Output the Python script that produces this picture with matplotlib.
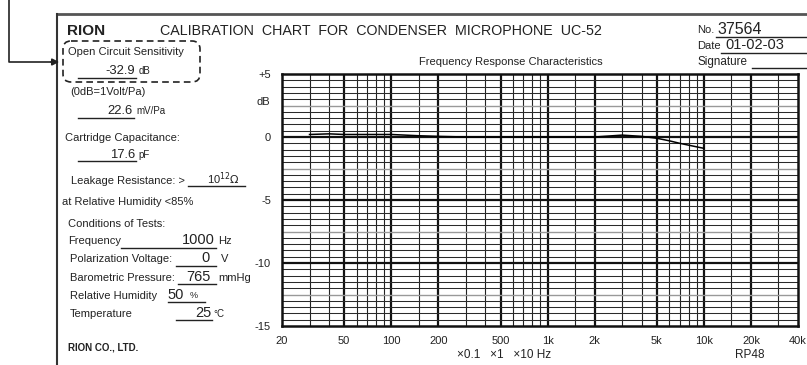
import matplotlib
matplotlib.use('Agg')
import matplotlib.pyplot as plt
from matplotlib.patches import FancyBboxPatch

plt.rcParams['font.family'] = ['Liberation Sans', 'DejaVu Sans']

# ---- data ----
freq_hz = [30, 40, 50, 70, 100, 150, 200, 300, 500, 1000, 2000, 3000, 4000,
           5000, 6000, 7000, 8000, 10000]
response_db = [0.2, 0.25, 0.2, 0.2, 0.2, 0.1, 0.05, 0.0, 0.0, 0.0, 0.0, 0.15,
               0.05, -0.1, -0.3, -0.5, -0.65, -0.9]

x_ticks = [20, 50, 100, 200, 500, 1000, 2000, 5000, 10000, 20000, 40000]
x_labels = ['20', '50', '100', '200', '500', '1k', '2k', '5k', '10k', '20k', '40k']
y_ticks = [5, 0, -5, -10, -15]
y_labels = ['+5', '0', '-5', '-10', '-15']

# chart paper grid
decades = [10, 100, 1000, 10000]
major_mult = [1, 2, 5]
minor_mult = [1.5, 3, 4, 6, 7, 8, 9]
db_step = 0.5

W, H = 807, 365
fig = plt.figure(figsize=(W / 100, H / 100), dpi=100)

# overlay for the printed form (pixel coords, y down)
ov = fig.add_axes([0, 0, 1, 1])
ov.set_xlim(0, W)
ov.set_ylim(H, 0)
ov.axis('off')

# ---- frequency response chart ----
left, right, top, bottom = 282, 798, 74, 326
ax = fig.add_axes([left / W, (H - bottom) / H, (right - left) / W, (bottom - top) / H])
ax.set_xscale('log')
ax.set_xlim(20, 40000)
ax.set_ylim(-15, 5)

for d in decades:
    for m in major_mult:
        f = d * m
        if 20 < f < 40000:
            ax.axvline(f, color='#111111', lw=1.6, zorder=1)
    for m in minor_mult:
        f = d * m
        if 20 < f < 40000:
            ax.axvline(f, color='#222222', lw=0.8, zorder=1)

n = int(round(20 / db_step))
for i in range(1, n):
    v = -15 + i * db_step
    if v % 5 == 0:
        ax.axhline(v, color='#111111', lw=1.6, zorder=1)
    elif v % 2.5 == 0:
        ax.axhline(v, color='#999999', lw=1.0, zorder=1)
    else:
        ax.axhline(v, color='#2a2a2a', lw=0.75, zorder=1)

ax.plot(freq_hz, response_db, color='black', lw=1.1, zorder=3)

for s in ax.spines.values():
    s.set_linewidth(1.8)
    s.set_color('#111111')

ax.set_xticks(x_ticks)
ax.set_xticklabels(x_labels)
ax.minorticks_off()
ax.set_yticks(y_ticks)
ax.set_yticklabels(y_labels)
ax.tick_params(axis='both', length=0, labelsize=8, colors='#222222')
ax.tick_params(axis='x', pad=7)
ax.tick_params(axis='y', pad=8)

# ---- the form around it ----
ov.plot([57, W], [14, 14], color='#555555', lw=2)
ov.plot([57, 57], [14, H], color='#333333', lw=1.5)

# pointer arrow
ov.plot([9, 9, 50], [0, 62, 62], color='#222222', lw=1.2)
ov.annotate('', xy=(62, 62), xytext=(48, 62),
            arrowprops=dict(arrowstyle='-|>', color='#222222', lw=1.2,
                            mutation_scale=10))

box = FancyBboxPatch((63, 41), 137, 41, boxstyle='round,pad=0,rounding_size=8',
                     fill=False, ls=(0, (4, 2.5)), lw=1.2, ec='#222222')
ov.add_patch(box)

txt = dict(va='center', color='#222222')


def field(x, y, s, size=8, **kw):
    ov.text(x, y, s, fontsize=size, **txt, **kw)


def uline(x0, x1, y):
    ov.plot([x0, x1], [y, y], color='#222222', lw=1.0)


field(67, 31, 'RION', size=11, weight='bold')
field(160, 31, 'CALIBRATION  CHART  FOR  CONDENSER  MICROPHONE  UC-52', size=10.3)

field(697, 30, 'No.', size=8)
field(717, 29, '37564', size=11.5)
uline(716, 806, 37)
field(697, 46, 'Date', size=8)
field(725, 45, '01-02-03', size=10.5)
uline(721, 806, 53)
field(697, 62, 'Signature', size=8.4)
uline(752, 806, 68)

field(511, 62, 'Frequency Response Characteristics', size=8, ha='center')

field(68, 52, 'Open Circuit Sensitivity')
field(135, 71, '-32.9', size=9.4, ha='right')
field(139, 71, 'dB', size=7)
uline(78, 136, 78)
field(70, 92, '(0dB=1Volt/Pa)')
field(133, 111, '22.6', size=9.4, ha='right')
field(136, 111, 'mV/Pa', size=7)
uline(78, 134, 118)

field(65, 138, 'Cartridge Capacitance:')
field(135, 155, '17.6', size=9.4, ha='right')
field(138, 155, 'pF', size=7)
uline(78, 136, 161)

field(71, 181, 'Leakage Resistance: >')
field(207, 179, r'10$^{12}\Omega$', size=8)
uline(188, 245, 186)
field(62, 202, 'at Relative Humidity <85%')

field(68, 224, 'Conditions of Tests:')
field(68, 241, 'Frequency')
field(215, 240, '1000', size=10.5, ha='right')
field(218, 241, 'Hz', size=8)
uline(121, 216, 248)
field(70, 259, 'Polarization Voltage:')
field(210, 258, '0', size=10.5, ha='right')
field(221, 259, 'V', size=8)
uline(176, 216, 266)
field(70, 278, 'Barometric Pressure:')
field(211, 277, '765', size=10.5, ha='right')
field(218, 278, 'mmHg', size=8)
uline(178, 216, 284)
field(70, 296, 'Relative Humidity')
field(167, 295, '50', size=10.5)
field(190, 296, '%', size=6.5)
uline(168, 205, 302)
field(70, 314, 'Temperature')
field(211, 313, '25', size=10.5, ha='right')
field(213, 314, '°C', size=7)
uline(176, 212, 320)

field(68, 347, 'RION CO., LTD.', size=7, weight='bold')

field(270, 102, 'dB', size=8, ha='right')
field(457, 355, '×0.1   ×1   ×10 Hz', size=8.5)
field(735, 355, 'RP48', size=8.5)

fig.savefig('out.png', dpi=100)
